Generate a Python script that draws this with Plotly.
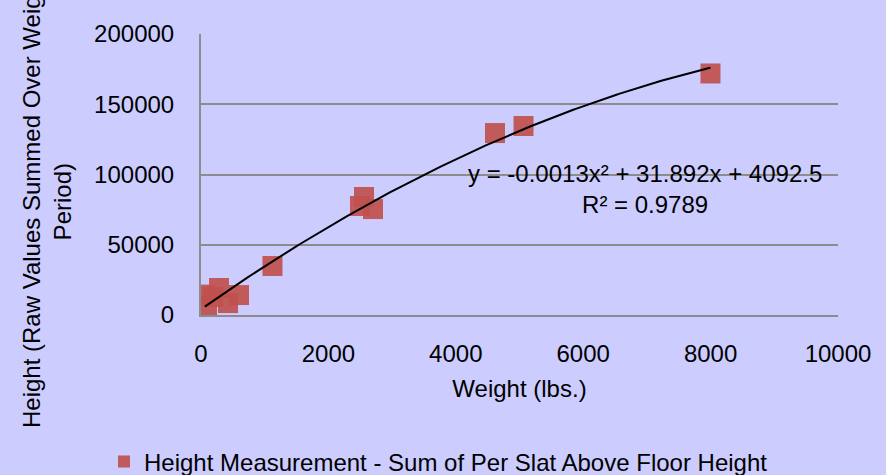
import numpy as np
import plotly.graph_objects as go

# Measured weight (lbs.) and summed slat height
weight = [60, 94, 188, 283, 424, 597, 1122, 2496, 2559, 2700, 4615, 5063, 7998]
height = [14500, 7100, 12800, 19200, 8500, 14200, 34900, 77600, 84000, 75400, 129500, 134500, 171900]

# Second-order polynomial trendline coefficients (a*x^2 + b*x + c)
coef_a, coef_b, coef_c = -0.0013, 31.892, 4092.5
r_squared = 0.9789

x_ticks = [0, 2000, 4000, 6000, 8000, 10000]
y_ticks = [0, 50000, 100000, 150000, 200000]

bg = "#CCCCFF"
grid = "#8C8C8C"
font_family = "Liberation Sans"

# plot area in pixels
L, R, T, B = 201, 838, 34, 315
W, H = R - L, B - T

trend_x = np.linspace(min(weight), max(weight), 200)
trend_y = coef_a * trend_x ** 2 + coef_b * trend_x + coef_c

fig = go.Figure()
fig.add_trace(go.Scatter(
    x=weight, y=height, mode="markers",
    name="Height Measurement - Sum of Per Slat Above Floor Height",
    marker=dict(symbol="square", size=20, color="#C0504D", opacity=0.92),
))
fig.add_trace(go.Scatter(
    x=trend_x, y=trend_y, mode="lines", showlegend=False,
    line=dict(color="black", width=2), hoverinfo="skip",
))

# trendline equation
fig.add_annotation(
    x=(645 - L) / W, y=(B - 189) / H, xref="paper", yref="paper", showarrow=False,
    xanchor="center", yanchor="middle",
    text=f"y = {coef_a}x² + {coef_b}x + {coef_c}<br>R² = {r_squared}",
    font=dict(family=font_family, size=24, color="black"), align="center",
)

# y-axis title
fig.add_annotation(
    x=(47 - L) / W, y=(B - 202) / H, xref="paper", yref="paper", showarrow=False,
    xanchor="center", yanchor="middle",
    text="Height (Raw Values Summed Over Weight<br>Period)",
    textangle=-90, font=dict(family=font_family, size=24, color="black"),
    align="center",
)

fig.update_layout(
    width=886, height=475,
    paper_bgcolor=bg, plot_bgcolor=bg,
    margin=dict(l=L, r=886 - R, t=T, b=475 - B, autoexpand=False),
    font=dict(family=font_family, size=24, color="black"),
    showlegend=True,
    legend=dict(orientation="h", x=(104 - L) / W, xanchor="left",
                y=(B - 462) / H, yanchor="middle",
                font=dict(size=24), bgcolor="rgba(0,0,0,0)", itemsizing="constant"),
    xaxis=dict(range=[0, 10000], tickvals=x_ticks, showgrid=False, zeroline=False,
               showline=True, linecolor=grid, linewidth=2, ticks="",
               ticklabelstandoff=16, tickformat="d", automargin=False,
               title=dict(text="Weight (lbs.)", standoff=14, font=dict(size=24))),
    yaxis=dict(range=[0, 200000], tickvals=y_ticks, showgrid=True, gridcolor=grid,
               gridwidth=2, zeroline=False, showline=True, linecolor=grid, linewidth=2,
               ticks="", ticklabelstandoff=20, tickformat="d", automargin=False),
)

fig.write_html("out.html")
